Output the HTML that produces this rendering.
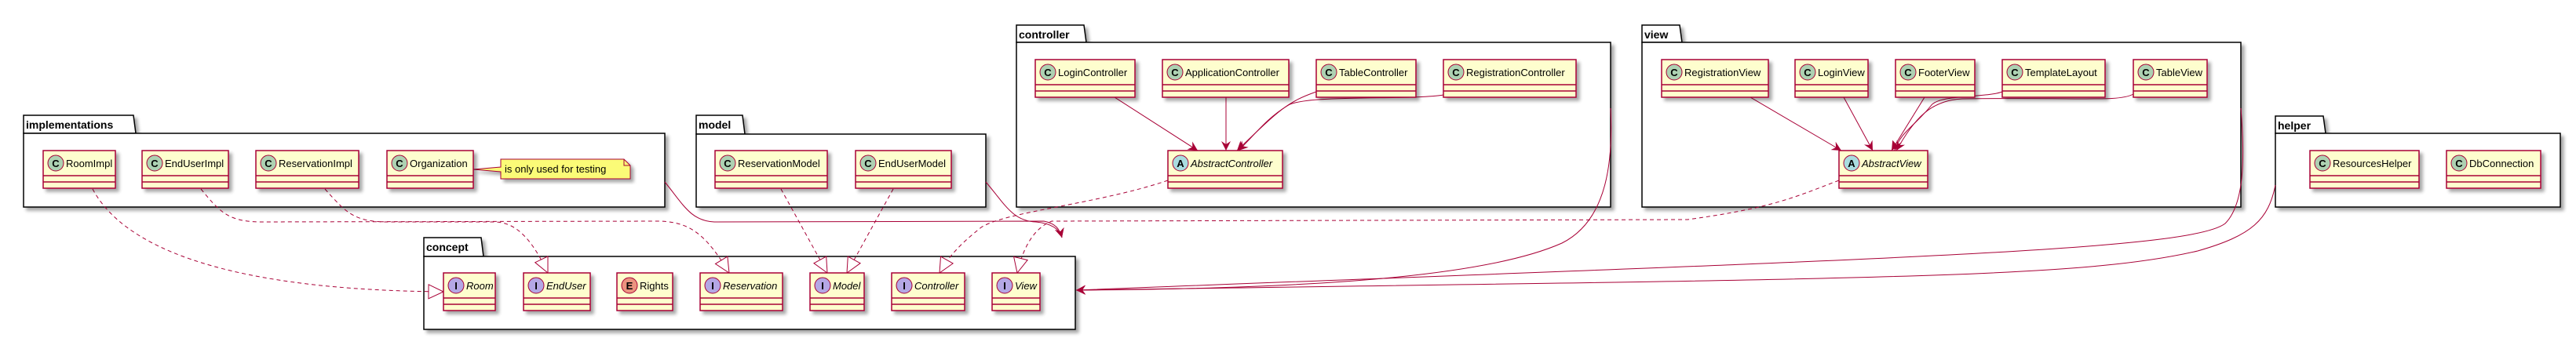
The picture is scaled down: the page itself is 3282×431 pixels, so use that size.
<!DOCTYPE html>
<html><head><meta charset="utf-8"><style>
html,body{margin:0;padding:0;background:#fff;}
svg{display:block;}
text{font-family:"Liberation Sans",sans-serif;}
.cn{font-size:13px;fill:#000;}
.it{font-style:italic;}
.pk{font-size:14px;font-weight:bold;}
.ci{font-size:13px;font-weight:bold;text-anchor:middle;}
</style></head><body>
<svg width="3282" height="431" viewBox="0 0 3282 431" xmlns="http://www.w3.org/2000/svg">
<defs>
<filter id="sh" x="-10%" y="-10%" width="130%" height="140%"><feGaussianBlur in="SourceAlpha" stdDeviation="2"/><feOffset dx="4" dy="4"/><feComponentTransfer><feFuncA type="linear" slope="0.35"/></feComponentTransfer><feMerge><feMergeNode/><feMergeNode in="SourceGraphic"/></feMerge></filter>
<marker id="tri" markerWidth="22" markerHeight="22" refX="20" refY="10" orient="auto" markerUnits="userSpaceOnUse"><path d="M1,1 L20,10 L1,19 Z" fill="#fff" stroke="#A80036" stroke-width="1"/></marker>
<marker id="arr" markerWidth="14" markerHeight="12" refX="12" refY="6" orient="auto" markerUnits="userSpaceOnUse"><path d="M0,0 L12,6 L0,12 L4,6 Z" fill="#A80036"/></marker>
</defs>

<!-- packages -->
<g fill="#fff" stroke="#000" stroke-width="1.5" filter="url(#sh)">
<path d="M30,170 L30,147 L170,147 L173,170 Z"/><rect x="30" y="170" width="817" height="94"/>
<path d="M887,171 L887,147 L946,147 L949,171 Z"/><rect x="887" y="171" width="369" height="93"/>
<path d="M1295,54 L1295,32 L1381,32 L1384,54 Z"/><rect x="1295" y="54" width="757" height="210"/>
<path d="M2092,54 L2092,32 L2140,32 L2143,54 Z"/><rect x="2092" y="54" width="763" height="210"/>
<path d="M2899,170 L2899,148 L2960,148 L2963,170 Z"/><rect x="2899" y="170" width="363" height="94"/>
<path d="M540,327 L540,303 L613,303 L616,327 Z"/><rect x="540" y="327" width="830" height="93"/>
</g>
<g class="pk">
<text x="33" y="164">implementations</text>
<text x="890" y="164">model</text>
<text x="1298" y="49">controller</text>
<text x="2095" y="49">view</text>
<text x="2902" y="165">helper</text>
<text x="543" y="320">concept</text>
</g>

<!-- edges -->
<g fill="none" stroke="#A80036" stroke-width="1">
<path d="M118,241 C160,320 300,370 565,372" stroke-dasharray="5,4" marker-end="url(#tri)"/>
<path d="M256,241 C280,270 290,282 330,283 L840,282 C880,283 900,300 929,348" stroke-dasharray="5,4" marker-end="url(#tri)"/>
<path d="M414,241 C440,270 450,282 490,283 L630,283 C660,283 680,310 698,348" stroke-dasharray="5,4" marker-end="url(#tri)"/>
<path d="M995,241 L1054,348" stroke-dasharray="5,4" marker-end="url(#tri)"/>
<path d="M1138,241 L1079,348" stroke-dasharray="5,4" marker-end="url(#tri)"/>
<path d="M1488,230 C1400,260 1280,270 1250,290 C1225,310 1210,325 1197,348" stroke-dasharray="5,4" marker-end="url(#tri)"/>
<path d="M2343,230 C2290,250 2260,265 2150,280 L1340,282 C1320,290 1305,310 1296,348" stroke-dasharray="5,4" marker-end="url(#tri)"/>
<path d="M847,232 C870,260 880,282 910,283 L1330,282 C1345,285 1350,292 1353,303" marker-end="url(#arr)"/>
<path d="M1256,232 C1280,260 1290,282 1320,283 C1340,285 1350,292 1353,303" marker-end="url(#arr)"/>
<path d="M2052,138 C2055,200 2050,280 1990,310 C1900,350 1700,368 1371,370" marker-end="url(#arr)"/>
<path d="M2855,138 C2860,200 2860,260 2835,285 C2790,320 2400,330 1371,370" marker-end="url(#arr)"/>
<path d="M2899,236 C2890,280 2870,300 2800,320 C2650,355 2400,355 1371,370" marker-end="url(#arr)"/>
<path d="M1420,124 L1526,192" marker-end="url(#arr)"/>
<path d="M1562,124 L1562,192" marker-end="url(#arr)"/>
<path d="M1677,117 C1640,130 1630,140 1576,192" marker-end="url(#arr)"/>
<path d="M1839,121 C1800,128 1660,120 1640,135 C1615,150 1600,170 1578,192" marker-end="url(#arr)"/>
<path d="M2230,124 L2346,192" marker-end="url(#arr)"/>
<path d="M2349,124 L2386,192" marker-end="url(#arr)"/>
<path d="M2452,124 L2410,192" marker-end="url(#arr)"/>
<path d="M2551,117 C2530,125 2470,120 2460,135 C2440,160 2420,170 2414,192" marker-end="url(#arr)"/>
<path d="M2718,120 C2700,130 2660,124 2500,126 C2460,128 2440,150 2416,192" marker-end="url(#arr)"/>
</g>

<!-- note -->
<g filter="url(#sh)">
<path d="M638,203 L795,203 L803,211 L803,228 L638,228 L638,219 L603,216 L638,213 Z" fill="#FBFB77" stroke="#A80036" stroke-width="1"/>
<path d="M795,203 L795,211 L803,211" fill="none" stroke="#A80036" stroke-width="1"/>
</g>
<text class="cn" x="643" y="220">is only used for testing</text>

<!-- classes -->
<g fill="#FEFECE" stroke="#A80036" stroke-width="1.5" filter="url(#sh)">
<rect x="55" y="192" width="92" height="48"/><rect x="181" y="192" width="110" height="48"/><rect x="326" y="192" width="131" height="48"/><rect x="493" y="192" width="110" height="48"/>
<rect x="911" y="192" width="143" height="48"/><rect x="1090" y="192" width="122" height="48"/>
<rect x="565" y="348" width="66" height="48"/><rect x="667" y="348" width="85" height="48"/><rect x="786" y="348" width="71" height="48"/><rect x="892" y="348" width="105" height="48"/><rect x="1032" y="348" width="69" height="48"/><rect x="1136" y="348" width="93" height="48"/><rect x="1264" y="348" width="61" height="48"/>
<rect x="1319" y="76" width="127" height="48"/><rect x="1481" y="76" width="161" height="48"/><rect x="1677" y="76" width="127" height="48"/><rect x="1839" y="76" width="169" height="48"/><rect x="1488" y="192" width="146" height="48"/>
<rect x="2117" y="76" width="136" height="48"/><rect x="2287" y="76" width="93" height="48"/><rect x="2415" y="76" width="101" height="48"/><rect x="2551" y="76" width="131" height="48"/><rect x="2718" y="76" width="94" height="48"/><rect x="2343" y="192" width="113" height="48"/>
<rect x="2943" y="192" width="139" height="48"/><rect x="3117" y="192" width="120" height="48"/>
</g>
<g stroke="#A80036" stroke-width="1.5">
<path d="M55,224h92M55,232h92M181,224h110M181,232h110M326,224h131M326,232h131M493,224h110M493,232h110M911,224h143M911,232h143M1090,224h122M1090,232h122M1488,224h146M1488,232h146M2343,224h113M2343,232h113M2943,224h139M2943,232h139M3117,224h120M3117,232h120"/>
<path d="M565,380h66M565,388h66M667,380h85M667,388h85M786,380h71M786,388h71M892,380h105M892,388h105M1032,380h69M1032,388h69M1136,380h93M1136,388h93M1264,380h61M1264,388h61"/>
<path d="M1319,108h127M1319,116h127M1481,108h161M1481,116h161M1677,108h127M1677,116h127M1839,108h169M1839,116h169M2117,108h136M2117,116h136M2287,108h93M2287,116h93M2415,108h101M2415,116h101M2551,108h131M2551,116h131M2718,108h94M2718,116h94"/>
</g>
<!-- circles -->
<g stroke="#A80036" stroke-width="1" fill="#ADD1B2">
<circle cx="71" cy="208" r="10"/><circle cx="197" cy="208" r="10"/><circle cx="342" cy="208" r="10"/><circle cx="509" cy="208" r="10"/><circle cx="927" cy="208" r="10"/><circle cx="1106" cy="208" r="10"/>
<circle cx="1335" cy="92" r="10"/><circle cx="1497" cy="92" r="10"/><circle cx="1693" cy="92" r="10"/><circle cx="1855" cy="92" r="10"/>
<circle cx="2133" cy="92" r="10"/><circle cx="2303" cy="92" r="10"/><circle cx="2431" cy="92" r="10"/><circle cx="2567" cy="92" r="10"/><circle cx="2734" cy="92" r="10"/>
<circle cx="2959" cy="208" r="10"/><circle cx="3133" cy="208" r="10"/>
<circle cx="1504" cy="208" r="10" fill="#A9DCDF"/><circle cx="2359" cy="208" r="10" fill="#A9DCDF"/>
<circle cx="581" cy="364" r="10" fill="#B4A7E5"/><circle cx="683" cy="364" r="10" fill="#B4A7E5"/><circle cx="802" cy="364" r="10" fill="#EB937F"/><circle cx="908" cy="364" r="10" fill="#B4A7E5"/><circle cx="1048" cy="364" r="10" fill="#B4A7E5"/><circle cx="1152" cy="364" r="10" fill="#B4A7E5"/><circle cx="1280" cy="364" r="10" fill="#B4A7E5"/>
</g>
<g class="ci">
<text x="71" y="213">C</text><text x="197" y="213">C</text><text x="342" y="213">C</text><text x="509" y="213">C</text><text x="927" y="213">C</text><text x="1106" y="213">C</text>
<text x="1335" y="97">C</text><text x="1497" y="97">C</text><text x="1693" y="97">C</text><text x="1855" y="97">C</text>
<text x="2133" y="97">C</text><text x="2303" y="97">C</text><text x="2431" y="97">C</text><text x="2567" y="97">C</text><text x="2734" y="97">C</text>
<text x="2959" y="213">C</text><text x="3133" y="213">C</text>
<text x="1504" y="213">A</text><text x="2359" y="213">A</text>
<text x="581" y="369">I</text><text x="683" y="369">I</text><text x="802" y="369">E</text><text x="908" y="369">I</text><text x="1048" y="369">I</text><text x="1152" y="369">I</text><text x="1280" y="369">I</text>
</g>
<g class="cn">
<text x="84" y="213">RoomImpl</text><text x="210" y="213">EndUserImpl</text><text x="355" y="213">ReservationImpl</text><text x="522" y="213">Organization</text>
<text x="940" y="213">ReservationModel</text><text x="1119" y="213">EndUserModel</text>
<text x="1348" y="97">LoginController</text><text x="1510" y="97">ApplicationController</text><text x="1706" y="97">TableController</text><text x="1868" y="97">RegistrationController</text>
<text x="2146" y="97">RegistrationView</text><text x="2316" y="97">LoginView</text><text x="2444" y="97">FooterView</text><text x="2580" y="97">TemplateLayout</text><text x="2747" y="97">TableView</text>
<text x="2972" y="213">ResourcesHelper</text><text x="3146" y="213">DbConnection</text>
<text x="815" y="369">Rights</text>
<g class="it">
<text x="1517" y="213">AbstractController</text><text x="2372" y="213">AbstractView</text>
<text x="594" y="369">Room</text><text x="696" y="369">EndUser</text><text x="921" y="369">Reservation</text><text x="1061" y="369">Model</text><text x="1165" y="369">Controller</text><text x="1293" y="369">View</text>
</g>
</g>
</svg>
</body></html>
